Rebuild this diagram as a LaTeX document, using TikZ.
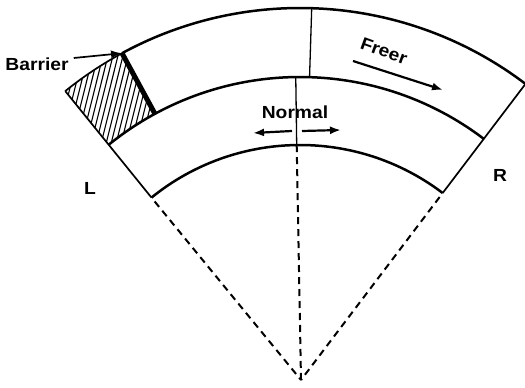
\documentclass[tikz,border=0pt]{standalone}
\usepackage{fontspec}
\setmainfont{Liberation Sans}
\usetikzlibrary{arrows.meta}
\newcommand\lbltext[1]{\scalebox{1.1}[1]{\bfseries #1}}
\begin{document}
\begin{tikzpicture}[x=1pt,y=1pt,
  arcline/.style={line width=2.5pt},
  edgeline/.style={line width=1.7pt},
  divline/.style={line width=1.3pt},
  barrierline/.style={line width=5pt},
  hatchline/.style={line width=1.1pt},
  dashline/.style={line width=2pt,dash pattern=on 7pt off 5pt},
  arr/.style={line width=2.2pt,-{Latex[length=11pt,width=8pt]}},
  lbl/.style={font=\fontsize{17.5}{20}\selectfont,inner sep=0pt}]
\useasboundingbox (0,0) rectangle (525,388);
\coordinate (C) at (300,7);
\coordinate (Li) at ([shift={(300,7)}]129:236);
\coordinate (Lm) at ([shift={(300,7)}]129:304);
\coordinate (Lo) at ([shift={(300,7)}]129:373);
\coordinate (Ri) at ([shift={(300,7)}]52.8:236);
\coordinate (Rm) at ([shift={(300,7)}]52.8:304);
\coordinate (Ro) at ([shift={(300,7)}]52.8:373);
\coordinate (Bm) at ([shift={(300,7)}]118.5:304);
\coordinate (Bo) at ([shift={(300,7)}]118.5:373);
\coordinate (Dm) at ([shift={(300,7)}]88.2:304);
\coordinate (Do) at ([shift={(300,7)}]88.2:373);
\coordinate (Ni) at ([shift={(300,7)}]90.8:236);
\coordinate (Nm) at ([shift={(300,7)}]90.8:304);
\coordinate (A) at (301,8);
% hatching
\begin{scope}
  \clip (Lm) -- (Lo) arc[start angle=129,end angle=118.5,radius=373] -- (Bm) arc[start angle=118.5,end angle=129,radius=304] -- cycle;
  \foreach \i in {0,...,34} {
    \draw[hatchline] (20+\i*5,220) -- ++(76:150);
  }
\end{scope}
% arcs
\draw[arcline] (Li) arc[start angle=129,end angle=52.8,radius=236];
\draw[arcline] (Lm) arc[start angle=129,end angle=52.8,radius=304];
\draw[arcline] (Bo) arc[start angle=118.5,end angle=52.8,radius=373];
\draw[edgeline] (Lo) arc[start angle=129,end angle=118.5,radius=373];
% edges
\draw[edgeline] (Li) -- (Lo);
\draw[edgeline] (Ri) -- (Ro);
\draw[barrierline] (Bm) -- (Bo);
\draw[divline] (Dm) -- (Do);
\draw[divline] (Ni) -- (Nm);
% dashed radii
\draw[dashline,dash phase=7pt] (Li) -- (A);
\draw[dashline,dash phase=7pt] (Ri) -- (A);
\draw[dashline] (Ni) -- (A);
% labels
\node[lbl] (barrierlbl) at (37,324) {\lbltext{Barrier}};
\coordinate (bstart) at ([shift={(5,6)}]barrierlbl.east);
\draw[arr,line width=1.7pt] (bstart) -- (Bo);
\node[lbl] (normallbl) at (295,276) {\lbltext{Normal}};
\coordinate (nl1) at (292,257);
\coordinate (nl2) at (253,255);
\coordinate (nr1) at (302,257);
\coordinate (nr2) at (341,258);
\draw[arr] (nl1) -- (nl2);
\draw[arr] (nr1) -- (nr2);
\node[lbl,rotate=-20] (freerlbl) at (384,337) {\lbltext{Freer}};
\coordinate (f1) at (353,327);
\coordinate (f2) at (443,298);
\draw[arr] (f1) -- (f2);
\node[lbl] (llbl) at (90,200) {\lbltext{L}};
\node[lbl] (rlbl) at (500,213) {\lbltext{R}};
\end{tikzpicture}
\end{document}
